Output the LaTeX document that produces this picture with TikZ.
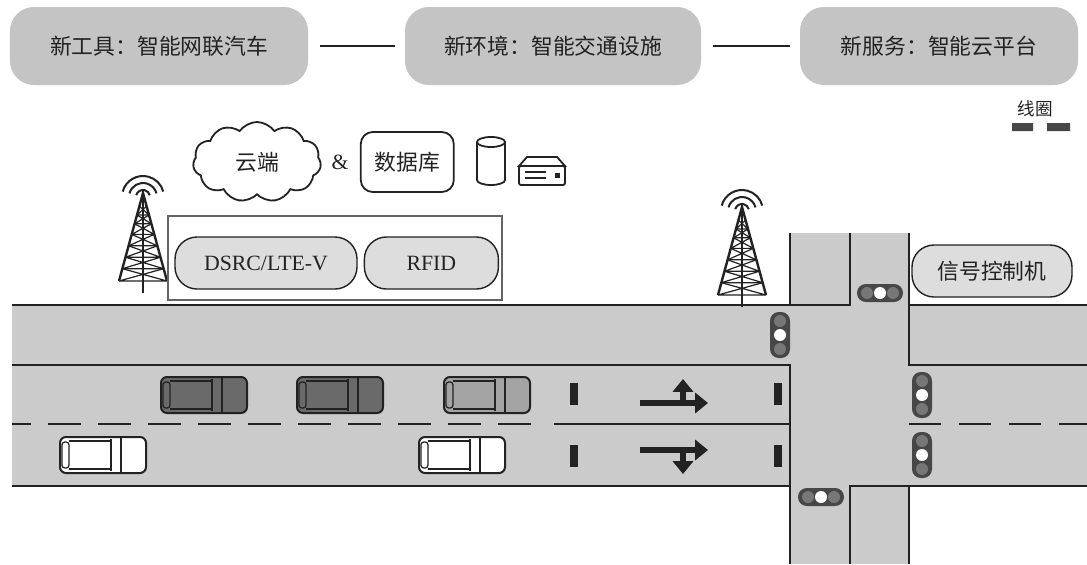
\documentclass[tikz,border=0pt]{standalone}
\usepackage{fontspec}
\setmainfont{Liberation Serif}
\newfontfamily\cjk{Noto Sans CJK SC}
\usetikzlibrary{arrows.meta,positioning,shapes.symbols}
\definecolor{Ink}{HTML}{222222}
\definecolor{Road}{HTML}{CBCBCB}
\definecolor{Panel}{HTML}{C4C4C4}
\definecolor{Pill}{HTML}{DDDDDD}
\definecolor{Lamp}{HTML}{474747}
\definecolor{LampOff}{HTML}{777777}
\definecolor{CarDark}{HTML}{6A6A6A}
\definecolor{CarMid}{HTML}{A4A4A4}

\tikzset{
  pics/car/.style={code={
    \draw[Ink,line width=0.5mm,fill=#1,rounded corners=1.5mm] (-43,-18) rectangle (43,18);
    \draw[Ink,line width=0.3mm,rounded corners=0.7mm] (-41,-13) rectangle (-34,13);
    \draw[Ink,line width=0.3mm] (-34,-14) -- (8,-14) (-34,14) -- (8,14);
    \draw[Ink,line width=0.3mm] (8,-16) -- (8,16) (18,-17) -- (18,17);
  }},
  pics/hlamp/.style={code={
    \fill[Lamp,rounded corners=2.2mm] (-23,-9) rectangle (23,9);
    \fill[LampOff] (-13,0) circle (1.5mm) (13,0) circle (1.5mm);
    \fill[white] (0,0) circle (1.5mm);
  }},
  pics/vlamp/.style={code={
    \fill[Lamp,rounded corners=2.2mm] (-10,-23) rectangle (10,23);
    \fill[LampOff] (0,-14) circle (1.5mm) (0,14) circle (1.5mm);
    \fill[white] (0,0) circle (1.5mm);
  }},
  pics/mast/.style={code={
    \draw[Ink,line width=0.6mm] (-24,88) -- (0,0) -- (24,88);
    \draw[Ink,line width=0.5mm] (0,0) -- (0,100);
    \foreach \a/\b in {0.15/0.25,0.25/0.35,0.35/0.47,0.47/0.6,0.6/0.73,0.73/0.86,0.86/1}
      \draw[Ink,line width=0.3mm] (-24*\a,88*\a) -- (24*\b,88*\b) (24*\a,88*\a) -- (-24*\b,88*\b)
        (-24*\b,88*\b) -- (24*\b,88*\b);
    \foreach \r in {7,14,21}
      \draw[Ink,line width=0.5mm] ([shift={(195:\r)}]0,4) arc (195:345:\r);
  }},
}

\begin{document}
\begin{tikzpicture}[x=0.25mm,y=-0.25mm,>=Latex,
  topbox/.style={fill=Panel,rounded corners=6mm,minimum height=19.5mm,text=Ink,
    font=\cjk\fontsize{15.5pt}{18pt}\selectfont},
  pill/.style={draw=Ink,line width=0.35mm,fill=Pill,rounded corners=5.5mm,minimum height=13mm,
    text=Ink,font=\fontsize{15.5pt}{18pt}\selectfont},
  line/.style={Ink,line width=0.45mm},
  bar/.style={Ink,line width=0.7mm}]
  \useasboundingbox (0,0) rectangle (1087,564);
  \fill[white] (0,0) rectangle (1087,564);

  % the three top panels
  \node[topbox,minimum width=74.5mm] (tool) at (159,46) {新工具：智能网联汽车};
  \node[topbox,minimum width=74mm] (env) at (553,46) {新环境：智能交通设施};
  \node[topbox,minimum width=69.5mm] (svc) at (939,46) {新服务：智能云平台};
  \draw[line,line width=0.55mm,shorten <=3mm,shorten >=2.5mm] (tool) -- (env);
  \draw[line,line width=0.55mm,shorten <=3mm,shorten >=2.5mm] (env) -- (svc);

  % roads
  \fill[Road] (12,305) rectangle (1087,486);
  \fill[Road] (790,233) rectangle (909,564);
  \draw[line] (12,305) -- (850,305) -- (850,233);
  \draw[line] (790,233) -- (790,305);
  \draw[line] (909,233) -- (909,365) -- (1087,365);
  \draw[line] (909,305) -- (1087,305);
  \draw[line] (12,365) -- (790,365) -- (790,564);
  \draw[line] (12,486) -- (790,486);
  \draw[line] (850,564) -- (850,486) -- (1087,486);
  \draw[line] (909,486) -- (909,564);
  \draw[bar,dash pattern=on 8.25mm off 4.25mm,dash phase=3.5mm] (12,424) -- (537,424);
  \draw[bar] (554,424) -- (790,424);
  \draw[bar,dash pattern=on 8mm off 4.5mm] (909,424) -- (1087,424);

  % stop bars and turn arrows
  \foreach \x in {574,778}{
    \fill[Ink] (\x-4,383) rectangle (\x+4,405);
    \fill[Ink] (\x-4,445) rectangle (\x+4,467);
  }
  \draw[Ink,line width=1.7mm,-{Triangle[length=3.2mm,width=5mm]}] (640,403) -- (708,403);
  \draw[Ink,line width=1.7mm,-{Triangle[length=3.2mm,width=5mm]}] (683,403) -- (683,379);
  \draw[Ink,line width=1.7mm,-{Triangle[length=3.2mm,width=5mm]}] (640,450) -- (708,450);
  \draw[Ink,line width=1.7mm,-{Triangle[length=3.2mm,width=5mm]}] (683,450) -- (683,474);

  % vehicles
  \pic at (204,395) {car=CarDark};
  \pic at (340,395) {car=CarDark};
  \pic at (487,395) {car=CarMid};
  \pic at (103,455) {car=white};
  \pic at (462,455) {car=white};

  % signals
  \pic at (880,293) {hlamp};
  \pic at (821,497) {hlamp};
  \pic at (780,335) {vlamp};
  \pic at (922,395) {vlamp};
  \pic at (922,455) {vlamp};

  % roadside units
  \pic at (143,193) {mast};
  \pic at (742,207) {mast};
  \draw[Ink!70,line width=0.3mm] (168,216) rectangle (502,300);
  \node[pill,minimum width=45.5mm] (dsrc) at (266,263) {DSRC/LTE-V};
  \node[pill,minimum width=33.5mm,right=1.5mm of dsrc] (rfid) {RFID};
  \node[pill,minimum width=40mm,font=\cjk\fontsize{15.5pt}{18pt}\selectfont] (ctrl) at (992,271) {信号控制机};

  % cloud and storage
  \node[cloud,cloud puffs=11,cloud puff arc=110,aspect=1.6,draw=Ink,line width=0.45mm,fill=white,
    minimum width=32mm,minimum height=20mm,text=Ink,font=\cjk\fontsize{15.5pt}{18pt}\selectfont] (cloud) at (257,162) {云端};
  \node[inner sep=0pt,right=2.5mm of cloud,text=Ink,font=\fontsize{15.5pt}{18pt}\selectfont] (amp) {\&};
  \node[draw=Ink,line width=0.45mm,fill=white,rounded corners=3mm,minimum width=23.25mm,minimum height=15mm,
    right=2.75mm of amp,text=Ink,font=\cjk\fontsize{15.5pt}{18pt}\selectfont] (db) {数据库};
  \draw[line,fill=white] (477,142) -- (477,180) arc (180:0:14 and 5) -- (505,142);
  \draw[line,fill=white] (491,142) ellipse (14 and 5);
  \draw[line,fill=white] (527,157) -- (557,157) -- (565,166) -- (519,166) -- cycle;
  \draw[line,fill=white,rounded corners=0.5mm] (519,166) rectangle (565,185);
  \draw[Ink,line width=0.3mm] (525,172) -- (546,172) (525,178) -- (546,178);
  \fill[Ink] (555,173) rectangle (560,178);

  % loop detector
  \node[text=Ink,font=\cjk\fontsize{12.5pt}{14pt}\selectfont] (coil) at (1035,109) {线圈};
  \fill[Lamp] (1012,123) rectangle (1033,131) (1047,123) rectangle (1070,131);
\end{tikzpicture}
\end{document}
